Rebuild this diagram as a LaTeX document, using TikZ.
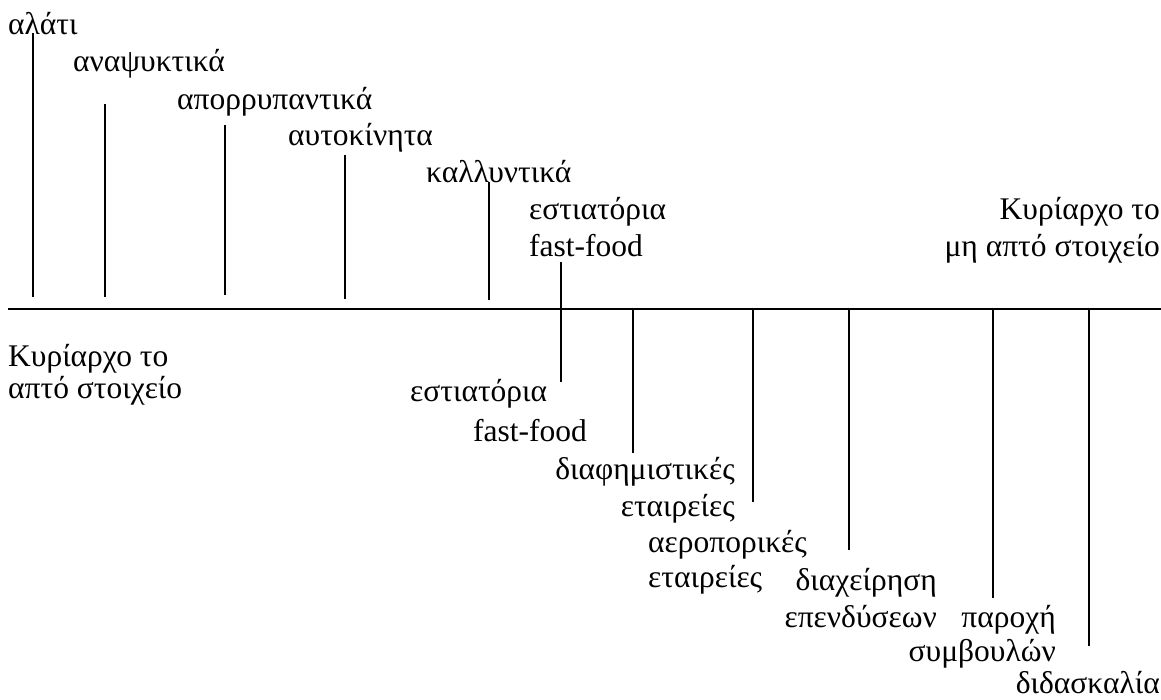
\documentclass[tikz,border=0pt]{standalone}
\usepackage{fontspec}
\setmainfont{Liberation Serif}
\usepackage{tikz}
\usetikzlibrary{positioning}

\tikzset{
  lbl/.style={inner sep=0pt, font=\fontsize{31.5}{37}\selectfont},
  ticklink/.style={line width=2.4pt},
  axisline/.style={line width=2.2pt},
}

\begin{document}
\begin{tikzpicture}[x=1pt,y=-1pt]
    \useasboundingbox (0,0) rectangle (1161,700);

    % labels above the axis (base = last line)
    \node[lbl, anchor=base west] (salt) at (8,35) {αλάτι};
    \node[lbl, anchor=base west] (drinks) at (73,72) {αναψυκτικά};
    \node[lbl, anchor=base west] (soap) at (177,110) {απορρυπαντικά};
    \node[lbl, anchor=base west] (cars) at (288,146) {αυτοκίνητα};
    \node[lbl, anchor=base west] (cosmet) at (426,183) {καλλυντικά};
    \node[lbl, anchor=base west, align=left] (foodup) at (529,257) {εστιατόρια\\fast-food};
    \node[lbl, anchor=base east, align=right] (intang) at (1160,257) {Κυρίαρχο το\\μη απτό στοιχείο};

    % axis
    \coordinate (axl) at (8,309);
    \coordinate (axr) at (1161,309);
    \draw[axisline] (axl) -- (axr);

    % labels below the axis
    \node[lbl, anchor=base west, align=left, font=\fontsize{31.5}{32}\selectfont] (tang) at (8,398) {Κυρίαρχο το\\απτό στοιχείο};
    \node[lbl, anchor=base west] (foodlo) at (410,401) {εστιατόρια};
    \node[lbl, anchor=base west] (fastlo) at (473,441) {fast-food};
    \node[lbl, anchor=base east, align=right] (advert) at (735,516) {διαφημιστικές\\εταιρείες};
    \node[lbl, anchor=base west, align=left, font=\fontsize{31.5}{35}\selectfont] (airline) at (648,587) {αεροπορικές\\εταιρείες};
    \node[lbl, anchor=base east, align=right] (invest) at (937,627) {διαχείρηση\\επενδύσεων};
    \node[lbl, anchor=base east, align=right, font=\fontsize{31.5}{34}\selectfont] (consult) at (1056,661) {παροχή\\συμβουλών};
    \node[lbl, anchor=base east] (teach) at (1160,693) {διδασκαλία};

    % ticks
    \foreach \x/\a/\b in {33/33/297, 105/104/297, 225/125/295, 345/155/299, 489/182/300,
                          561/262/382, 633/309/453, 753/309/502, 849/309/550, 993/309/598, 1089/309/646}
        \draw[ticklink] (\x,\a) -- (\x,\b);
\end{tikzpicture}
\end{document}
